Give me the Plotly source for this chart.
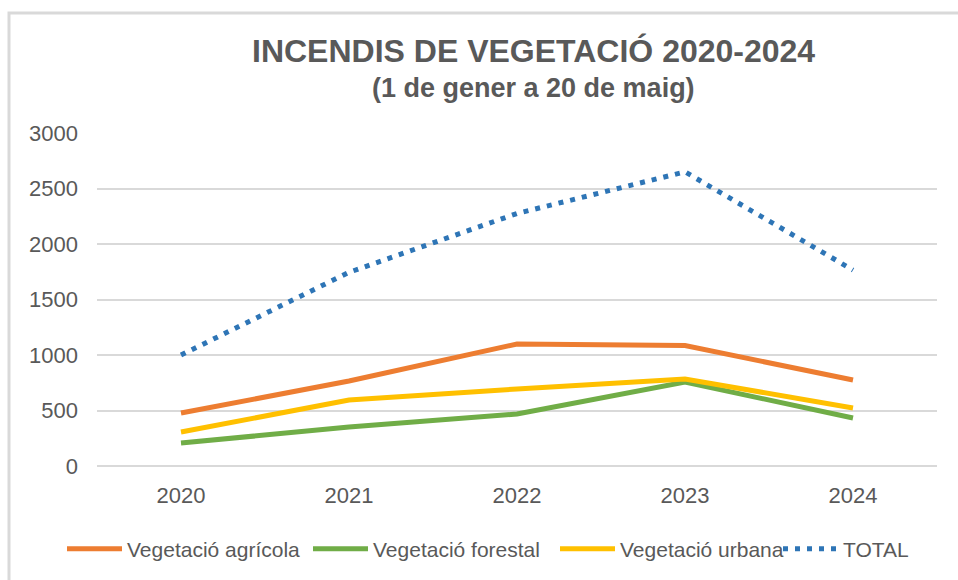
import plotly.graph_objects as go

years = ["2020", "2021", "2022", "2023", "2024"]
agricola = [477, 766, 1099, 1085, 775]
forestal = [207, 351, 468, 757, 432]
urbana = [306, 595, 694, 784, 523]
total = [1000, 1745, 2275, 2650, 1765]

series = [
    ("Vegetació agrícola", agricola, "#ED7D31", "solid", "legend", 62),
    ("Vegetació forestal", forestal, "#70AD47", "solid", "legend2", 308),
    ("Vegetació urbana", urbana, "#FFC000", "solid", "legend3", 555),
    ("TOTAL", total, "#2E75B6", "5px,7px", "legend4", 778),
]

W, H = 958, 580
L, R, T, B = 97, 937, 133, 466
pw, ph = R - L, B - T

def px(x):
    return (x - L) / pw

def py(y):
    return (B - y) / ph

fig = go.Figure()
legends = {}
for name, vals, color, dash, leg, lx in series:
    fig.add_trace(go.Scatter(
        x=years, y=vals, name=name, mode="lines", legend=leg,
        line=dict(color=color, width=5, dash=dash),
    ))
    legends[leg] = dict(orientation="h", xref="container", x=lx / W, xanchor="left",
                        yref="container", y=(H - 549) / H, yanchor="middle",
                        font=dict(size=21, color="#595959"), itemwidth=55,
                        bgcolor="rgba(0,0,0,0)")

fig.update_layout(
    width=W, height=H,
    margin=dict(l=L, r=W - R, t=T, b=H - B),
    paper_bgcolor="white", plot_bgcolor="white",
    font=dict(family="Liberation Sans, Arial, sans-serif", color="#595959", size=21),
    showlegend=True,
    xaxis=dict(type="category", range=[-0.5, 4.5], showgrid=False, showline=False,
               zeroline=False, ticks="", tickfont=dict(size=22, color="#595959"),
               ticklabelstandoff=14),
    yaxis=dict(range=[0, 3000], tickvals=[0, 500, 1000, 1500, 2000, 2500, 3000],
               showgrid=True, gridcolor="#D9D9D9", gridwidth=2,
               zeroline=True, zerolinecolor="#D9D9D9", zerolinewidth=2,
               showline=False, ticks="", tickfont=dict(size=22, color="#595959"),
               ticklabelstandoff=18),
    annotations=[
        dict(text="<b>INCENDIS DE VEGETACIÓ 2020-2024</b>", xref="paper", yref="paper",
             x=px(533), y=py(51), xanchor="center", yanchor="middle", showarrow=False,
             font=dict(size=32, color="#595959")),
        dict(text="<b>(1 de gener a 20 de maig)</b>", xref="paper", yref="paper",
             x=px(533), y=py(88), xanchor="center", yanchor="middle", showarrow=False,
             font=dict(size=27, color="#595959")),
    ],
    shapes=[
        dict(type="rect", xref="paper", yref="paper",
             x0=px(9), x1=px(970), y0=py(13), y1=py(600),
             line=dict(color="#D9D9D9", width=3), fillcolor="rgba(0,0,0,0)", layer="below"),
    ],
    **legends,
)

fig.write_html("out.html", config={"displayModeBar": False},
               post_script="document.body.style.margin='0px';")
